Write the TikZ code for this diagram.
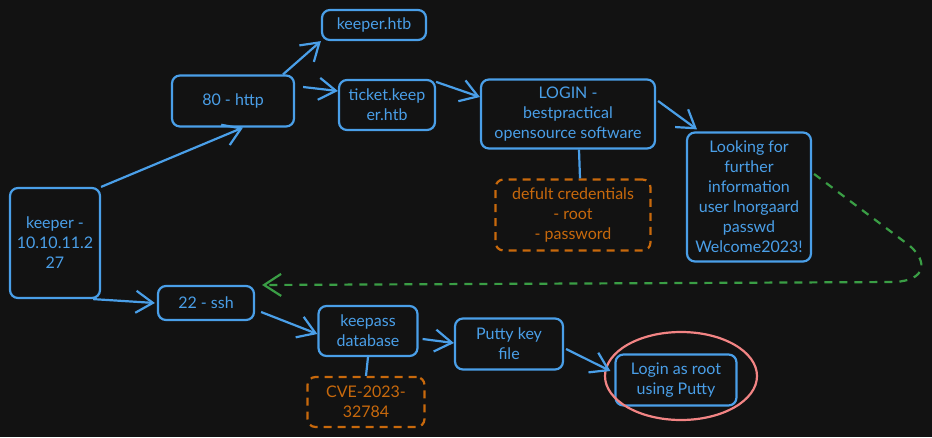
\documentclass[tikz,border=0pt]{standalone}
\usepackage{fontspec}
\setmainfont{Lato}
\usetikzlibrary{arrows.meta}
\definecolor{bg}{HTML}{121212}
\definecolor{skyblue}{HTML}{4A9FE8}
\definecolor{rust}{HTML}{C8690C}
\definecolor{leaf}{HTML}{3A9E45}
\definecolor{salmon}{HTML}{F28484}
\begin{document}
\begin{tikzpicture}[x=1pt,y=-1pt,
    >={Straight Barb[length=17pt,width=22pt]},
    box/.style={draw=skyblue, line width=2.2pt, rounded corners=8pt, text=skyblue,
      align=center, inner sep=2pt, font=\fontsize{16}{20}\selectfont},
    note/.style={box, draw=rust, text=rust, dash pattern=on 8pt off 6pt},
    link/.style={draw=skyblue, line width=2.2pt}]
  \useasboundingbox[fill=bg] (0,0) rectangle (932,437);
  \node[box, minimum width=90pt, minimum height=110pt] at (55,243) (host) {keeper -\\10.10.11.2\\27};
  \node[box, minimum width=122pt, minimum height=51pt] at (233,101) (http) {80 - http};
  \node[box, minimum width=104pt, minimum height=30pt] at (374,25) (site) {keeper.htb};
  \node[box, minimum width=96pt, minimum height=50pt] at (387,105) (ticket) {ticket.keep\\er.htb};
  \node[box, minimum width=174pt, minimum height=69pt] at (568,114) (login) {LOGIN -\\bestpractical\\opensource software};
  \node[box, minimum width=124pt, minimum height=129pt] at (749,197) (info) {Looking for\\further\\information\\user lnorgaard\\passwd\\Welcome2023!};
  \node[note, minimum width=155pt, minimum height=71pt] at (573,215) (creds) {defult credentials\\- root\\- password};
  \node[box, minimum width=96pt, minimum height=34pt] at (206,303) (ssh) {22 - ssh};
  \node[box, minimum width=99pt, minimum height=50pt] at (368,331) (kdb) {keepass\\database};
  \node[note, minimum width=117pt, minimum height=50pt] at (366,402) (cve) {CVE-2023-\\32784};
  \node[box, minimum width=108pt, minimum height=51pt] at (509,344) (pkey) {Putty key\\file};
  \node[box, minimum width=121pt, minimum height=51pt] at (676,380) (root) {Login as root\\using Putty};
  \draw[salmon, line width=2.2pt] (681,376) ellipse [x radius=76pt, y radius=44pt];
  % upper branch
  \draw[link, ->] (host.north east) -- ([xshift=10pt]http.south);
  \draw[link, ->] ([xshift=50pt]http.north) -- (site.south west);
  \draw[link, ->] ([xshift=8pt,yshift=14pt]http.east) -- ([yshift=14pt]ticket.west);
  \draw[link, ->] ([yshift=-3pt]ticket.north east) -- ([yshift=17pt]login.west);
  \draw[link, ->] ([xshift=2pt,yshift=13pt]login.east) -- ([xshift=-52pt,yshift=2pt]info.north);
  \draw[link] ([xshift=11pt]login.south) -- ([xshift=7pt]creds.north);
  % lower branch
  \draw[link, ->] ([xshift=-8pt]host.south east) -- ([xshift=-2pt]ssh.west);
  \draw[link, ->] ([xshift=6pt,yshift=-9pt]ssh.east) -- ([yshift=-3pt]kdb.west);
  \draw[link, ->] ([xshift=4pt,yshift=-8pt]kdb.east) -- ([yshift=1pt]pkey.west);
  \draw[link] (kdb.south) -- (cve.north);
  \draw[link, ->] ([xshift=2pt,yshift=-5pt]pkey.east) -- ([xshift=-4pt,yshift=9pt]root.west);
  % password reuse
  \draw[leaf, line width=2.2pt, dash pattern=on 8pt off 7pt, ->]
    ([xshift=2pt,yshift=23pt]info.east) -- (910,246)
    .. controls (928,262) and (926,280) .. (895,282)
    -- ([xshift=7pt,yshift=18pt]ssh.east);
\end{tikzpicture}
\end{document}
